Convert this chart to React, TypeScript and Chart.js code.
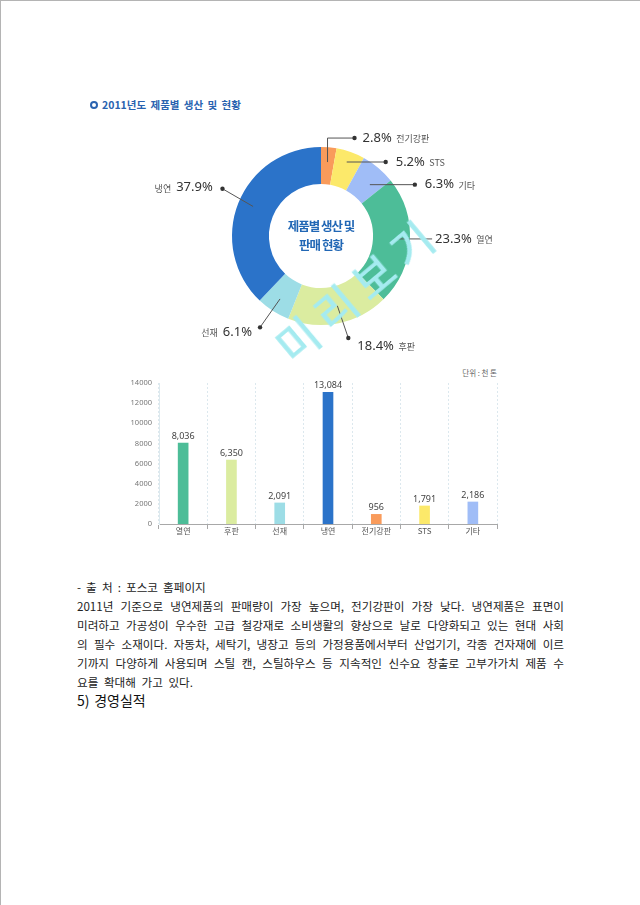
import React, { useEffect, useRef } from 'react';
import { Chart, registerables } from 'chart.js';

Chart.register(...registerables);

// ---------- DATA ----------
const pieLabels = ['전기강판', 'STS', '기타', '열연', '후판', '선재', '냉연'];
const pieValues = [2.8, 5.2, 6.3, 23.3, 18.4, 6.1, 37.9];
const pieColors = ['#f99b5b', '#fce96a', '#a0bdf7', '#4dbd98', '#dbeca0', '#9ddde6', '#2b73c9'];

const barCategories = ['열연', '후판', '선재', '냉연', '전기강판', 'STS', '기타'];
const barValues = [8036, 6350, 2091, 13084, 956, 1791, 2186];
const barColors = ['#4dbd98', '#dbeca0', '#9ddde6', '#2b73c9', '#f99b5b', '#fce96a', '#a0bdf7'];

const yMin = 0;
const yMax = 14000;
const yStep = 2000;

const titleText = '2011년도 제품별 생산 및 현황';
const centerLines = ['제품별 생산 및', '판매 현황'];
const unitText = '단위 : 천 톤';
const sourceLine = '- 출 처 : 포스코 홈페이지';
const bodyLines = [
  '2011년 기준으로 냉연제품의 판매량이 가장 높으며, 전기강판이 가장 낮다. 냉연제품은 표면이',
  '미려하고 가공성이 우수한 고급 철강재로 소비생활의 향상으로 날로 다양화되고 있는 현대 사회',
  '의 필수 소재이다. 자동차, 세탁기, 냉장고 등의 가정용품에서부터 산업기기, 각종 건자재에 이르',
  '기까지 다양하게 사용되며 스틸 캔, 스틸하우스 등 지속적인 신수요 창출로 고부가가치 제품 수',
  '요를 확대해 가고 있다.',
];
const headingText = '5) 경영실적';
const watermarkText = '미리보기';

// ---------- STYLE (leader lines for doughnut labels, offsets from slice anchor) ----------
type Leader = { s: [number, number]; p: [number, number][]; dot: boolean; side: 'left' | 'right'; tx: number; ty: number };
const leaderStyles: Leader[] = [
  { s: [0, 0], p: [[0, -24], [27, -24]], dot: true, side: 'right', tx: 8, ty: 0 },
  { s: [1, -4], p: [[40, -4]], dot: true, side: 'right', tx: 10, ty: 0 },
  { s: [1, 5.4], p: [[46, 5.4]], dot: true, side: 'right', tx: 10, ty: 0 },
  { s: [2, -1.5], p: [[37, -1.5]], dot: false, side: 'right', tx: 3, ty: 0 },
  { s: [1.5, -3], p: [[12.5, 29.3]], dot: true, side: 'right', tx: 9, ty: 8 },
  { s: [-1, 0.4], p: [[-21, 28.8]], dot: true, side: 'left', tx: -8, ty: 5 },
  { s: [1, -2], p: [[-29.6, -19.7]], dot: true, side: 'left', tx: -9.7, ty: -1 },
];

const KR = '"Noto Sans CJK KR", "Noto Sans", sans-serif';

const pieLabelPlugin = {
  id: 'pieLabels',
  afterDatasetsDraw(chart: any) {
    const ctx = chart.ctx as CanvasRenderingContext2D;
    const meta = chart.getDatasetMeta(0);
    meta.data.forEach((arc: any, i: number) => {
      const { x, y, startAngle, endAngle, innerRadius, outerRadius } = arc.getProps(
        ['x', 'y', 'startAngle', 'endAngle', 'innerRadius', 'outerRadius'],
        true
      );
      const mid = (startAngle + endAngle) / 2;
      const r = innerRadius + 0.6 * (outerRadius - innerRadius);
      const bx = x + Math.cos(mid) * r;
      const by = y + Math.sin(mid) * r;
      const st = leaderStyles[i];
      ctx.save();
      ctx.strokeStyle = '#555';
      ctx.lineWidth = 1;
      ctx.beginPath();
      ctx.moveTo(bx + st.s[0], by + st.s[1]);
      st.p.forEach(([dx, dy]) => ctx.lineTo(bx + dx, by + dy));
      ctx.stroke();
      const last = st.p[st.p.length - 1];
      const ex = bx + last[0];
      const ey = by + last[1];
      if (st.dot) {
        ctx.fillStyle = '#333';
        ctx.beginPath();
        ctx.arc(ex, ey, 2.2, 0, Math.PI * 2);
        ctx.fill();
      }
      const pct = pieValues[i].toFixed(1) + '%';
      const tx = ex + st.tx;
      const ty = ey + st.ty;
      ctx.textBaseline = 'middle';
      ctx.font = '13px "Noto Sans", sans-serif';
      const pw = ctx.measureText(pct).width;
      ctx.fillStyle = '#333';
      if (st.side === 'right') {
        ctx.textAlign = 'left';
        ctx.fillText(pct, tx, ty);
        ctx.font = '9px ' + KR;
        ctx.fillStyle = '#555';
        ctx.fillText(pieLabels[i], tx + pw + 4.5, ty + 0.5);
      } else {
        ctx.textAlign = 'right';
        ctx.fillText(pct, tx, ty);
        ctx.font = '9px ' + KR;
        ctx.fillStyle = '#555';
        ctx.fillText(pieLabels[i], tx - pw - 5, ty + 0.5);
      }
      ctx.restore();
    });
  },
};

const barValuePlugin = {
  id: 'barValues',
  afterDatasetsDraw(chart: any) {
    const ctx = chart.ctx as CanvasRenderingContext2D;
    const meta = chart.getDatasetMeta(0);
    ctx.save();
    ctx.font = '9px "Noto Sans", sans-serif';
    ctx.fillStyle = '#444';
    ctx.textAlign = 'center';
    ctx.textBaseline = 'middle';
    meta.data.forEach((bar: any, i: number) => {
      ctx.fillText(barValues[i].toLocaleString('en-US'), bar.x, bar.y - 7);
    });
    ctx.restore();
  },
};

export default function App() {
  const pieRef = useRef<HTMLCanvasElement>(null);
  const barRef = useRef<HTMLCanvasElement>(null);

  useEffect(() => {
    const pie = new Chart(pieRef.current as HTMLCanvasElement, {
      type: 'doughnut',
      data: {
        labels: pieLabels,
        datasets: [
          {
            data: pieValues,
            backgroundColor: pieColors,
            borderWidth: 0,
            hoverBorderWidth: 0,
            hoverOffset: 0,
            offset: 0,
          } as any,
        ],
      },
      options: {
        responsive: false,
        animation: false,
        cutout: '58.5%',
        layout: { padding: { left: 111, right: 111, top: 31, bottom: 31 } },
        plugins: { legend: { display: false }, tooltip: { enabled: false } },
        events: [],
      } as any,
      plugins: [pieLabelPlugin],
    });

    const bar = new Chart(barRef.current as HTMLCanvasElement, {
      type: 'bar',
      data: {
        labels: barCategories,
        datasets: [
          {
            data: barValues,
            backgroundColor: barColors,
            borderWidth: 0,
            barThickness: 10,
          } as any,
        ],
      },
      options: {
        responsive: false,
        animation: false,
        events: [],
        layout: { padding: { top: 17, right: 13, left: 0, bottom: 0 } },
        plugins: { legend: { display: false }, tooltip: { enabled: false } },
        scales: {
          x: {
            offset: true,
            grid: {
              display: true,
              offset: true,
              color: '#dce8ee',
              drawOnChartArea: true,
              drawTicks: true,
              tickLength: 5,
              tickColor: '#a8a8a8',
              lineWidth: 1,
            },
            border: { display: true, color: '#a8a8a8', dash: [2, 2] },
            ticks: {
              font: { size: 8, family: KR },
              color: '#555',
              padding: -3,
              maxRotation: 0,
              autoSkip: false,
            },
            afterFit: (s: any) => {
              s.height = 22;
            },
          },
          y: {
            min: yMin,
            max: yMax,
            ticks: {
              stepSize: yStep,
              font: { size: 7.5, family: '"Noto Sans", sans-serif' },
              color: '#777',
              padding: 7,
              callback: (v: any) => String(v),
            },
            grid: { display: false, drawTicks: false },
            border: { display: true, color: '#dde9ee' },
            afterFit: (s: any) => {
              s.width = 39;
            },
          },
        },
      } as any,
      plugins: [barValuePlugin],
    });

    return () => {
      pie.destroy();
      bar.destroy();
    };
  }, []);

  const bodyStyle: React.CSSProperties = {
    position: 'absolute',
    left: 77,
    width: 487,
    fontFamily: KR,
    fontSize: 11.6,
    lineHeight: '18.9px',
    color: '#222',
    margin: 0,
  };

  return (
    <div
      style={{
        position: 'absolute',
        left: 0,
        top: 0,
        width: 640,
        height: 905,
        background: '#fff',
        overflow: 'hidden',
        fontFamily: KR,
      }}
    >
      {/* page border */}
      <div style={{ position: 'absolute', left: 0, top: 0, width: 640, height: 1, background: '#b4b4b4' }} />
      <div style={{ position: 'absolute', left: 0, top: 0, width: 1, height: 905, background: '#b4b4b4' }} />

      {/* title */}
      <div
        style={{
          position: 'absolute',
          left: 90,
          top: 100.5,
          width: 4,
          height: 4,
          border: '2px solid #2a63b0',
          borderRadius: '50%',
        }}
      />
      <div
        style={{
          position: 'absolute',
          left: 102,
          top: 97,
          lineHeight: '16px',
          fontSize: 10.5,
          fontWeight: 700,
          color: '#2a63b0',
          whiteSpace: 'nowrap',
          wordSpacing: '2px',
        }}
      >
        {titleText}
      </div>

      {/* doughnut */}
      <canvas
        ref={pieRef}
        width={400}
        height={240}
        style={{ position: 'absolute', left: 121, top: 116, width: 400, height: 240 }}
      />
      <div
        style={{
          position: 'absolute',
          left: 261,
          top: 216,
          width: 120,
          textAlign: 'center',
          fontSize: 12.5,
          fontWeight: 700,
          color: '#2167b5',
          lineHeight: '19px',
          letterSpacing: '-1px',
        }}
      >
        {centerLines.map((l, i) => (
          <div key={i}>{l}</div>
        ))}
      </div>

      {/* bar chart */}
      <div
        style={{
          position: 'absolute',
          right: 143,
          top: 366,
          lineHeight: '13px',
          fontSize: 7.5,
          color: '#666',
          whiteSpace: 'nowrap',
        }}
      >
        {unitText}
      </div>
      <canvas
        ref={barRef}
        width={390}
        height={180}
        style={{ position: 'absolute', left: 120, top: 366, width: 390, height: 180 }}
      />

      {/* text */}
      <div style={{ ...bodyStyle, top: 578, wordSpacing: '2.5px' }}>{sourceLine}</div>
      {bodyLines.map((l, i) => {
        const isLast = i === bodyLines.length - 1;
        return (
          <div
            key={i}
            style={{
              ...bodyStyle,
              top: 578 + (i + 1) * 18.9,
              textAlign: 'justify',
              textAlignLast: isLast ? 'left' : 'justify',
              wordSpacing: isLast ? '3px' : undefined,
            }}
          >
            {l}
          </div>
        );
      })}
      <div
        style={{
          ...bodyStyle,
          top: 578 + 6 * 18.9,
          fontSize: 14,
          color: '#111',
          wordSpacing: '1.5px',
        }}
      >
        {headingText}
      </div>

      {/* watermark */}
      <div
        style={{
          position: 'absolute',
          left: 357,
          top: 288,
          transform: 'translate(-50%, -50%) rotate(-40deg)',
          fontSize: 44,
          fontWeight: 500,
          color: '#a5ebf0',
          letterSpacing: '9px',
          whiteSpace: 'nowrap',
          lineHeight: '50px',
          pointerEvents: 'none',
        }}
      >
        {watermarkText}
      </div>
    </div>
  );
}
